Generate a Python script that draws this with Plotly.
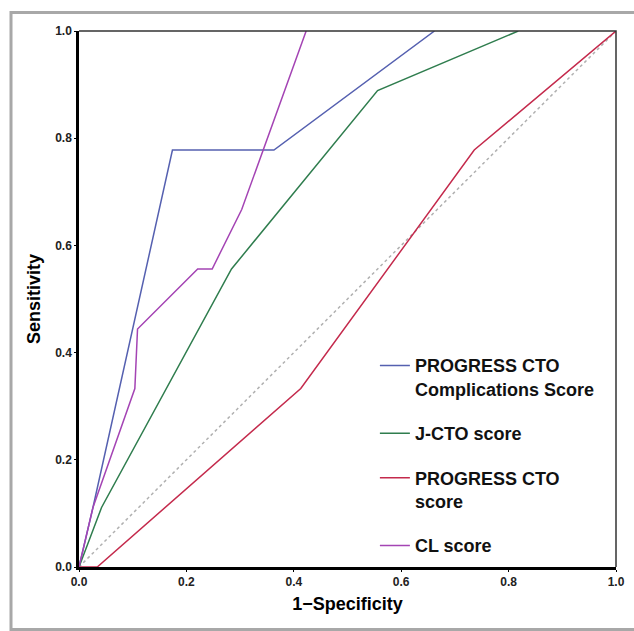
import plotly.graph_objects as go

# ---- data ----
blue_x = [0.0, 0.026, 0.174, 0.363, 0.662]
blue_y = [0.0, 0.111, 0.778, 0.778, 1.0]

green_x = [0.0, 0.042, 0.284, 0.556, 0.818]
green_y = [0.0, 0.111, 0.556, 0.889, 1.0]

red_x = [0.0, 0.034, 0.413, 0.736, 1.0]
red_y = [0.0, 0.0, 0.333, 0.778, 1.0]

purple_x = [0.0, 0.026, 0.104, 0.109, 0.221, 0.248, 0.303, 0.423]
purple_y = [0.0, 0.111, 0.333, 0.444, 0.556, 0.556, 0.667, 1.0]

diag_x = [0.0, 1.0]
diag_y = [0.0, 1.0]

names = ["PROGRESS CTO<br>Complications Score", "J-CTO score",
         "PROGRESS CTO<br>score", "CL score"]
colors = ["#5560b0", "#2f7d4e", "#c42a4c", "#a444b4"]
tick_vals = [0.0, 0.2, 0.4, 0.6, 0.8, 1.0]
tick_text = ["0.0", "0.2", "0.4", "0.6", "0.8", "1.0"]

FONT = "Liberation Sans, Arial, Helvetica, sans-serif"

fig = go.Figure()
fig.add_trace(go.Scatter(x=diag_x, y=diag_y, mode="lines", showlegend=False,
                         line=dict(color="#b0b0b0", width=1.5, dash="dot"),
                         hoverinfo="skip"))
series = [(blue_x, blue_y), (green_x, green_y), (red_x, red_y), (purple_x, purple_y)]
for i, ((xs, ys), nm, c) in enumerate(zip(series, names, colors)):
    fig.add_trace(go.Scatter(x=xs, y=ys, mode="lines", name=nm,
                             legendgroup=f"g{i}",
                             line=dict(color=c, width=1.5)))

axis_common = dict(
    range=[0, 1], tickvals=tick_vals, ticktext=tick_text, automargin=False,
    showgrid=False, zeroline=False, showline=True, linecolor="black",
    linewidth=2.5, ticks="outside", ticklen=2, tickcolor="black",
    tickfont=dict(family=FONT, size=12, color="#222", weight="bold"),
    title_font=dict(family=FONT, size=18, color="black", weight="bold"),
)
fig.update_xaxes(**axis_common, title_text="1\u2212Specificity", title_standoff=10)
fig.update_yaxes(**axis_common, title_text="Sensitivity", title_standoff=10)

# top/right thin border of plot area
fig.add_shape(type="path", xref="paper", yref="paper",
              path="M 0,1 L 1,1 L 1,0", line=dict(color="#333", width=1.5))
# outer gray frame (left, top, bottom sides; right side is outside the image)
fx0 = (11 - 79) / 537
fx1 = 1.3
fy0 = (567 - 629.5) / 536
fy1 = (567 - 12.5) / 536
fig.add_shape(type="path", xref="paper", yref="paper",
              path=f"M {fx1},{fy0} L {fx0},{fy0} L {fx0},{fy1} L {fx1},{fy1}",
              line=dict(color="#a8a8a8", width=3), layer="below")

fig.update_layout(
    width=634, height=631,
    margin=dict(l=79, r=18, t=31, b=64),
    paper_bgcolor="white", plot_bgcolor="white",
    showlegend=True,
    legend=dict(x=0.551, y=0.410, xanchor="left", yanchor="top",
                bgcolor="rgba(0,0,0,0)", valign="top", tracegroupgap=18,
                font=dict(family=FONT, size=18, color="#111", weight="bold"),
                itemwidth=30),
)

fig.write_html("out.html",
               config={"displayModeBar": False},
               post_script="document.body.style.margin='0';"
                           "document.body.style.overflow='hidden';")
